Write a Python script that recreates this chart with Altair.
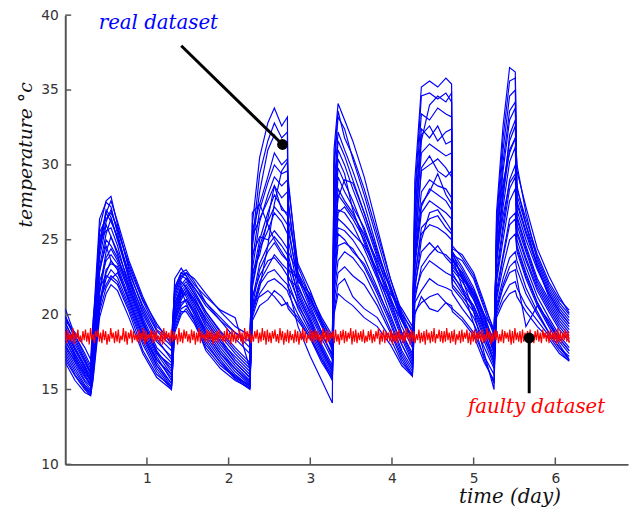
import altair as alt
import numpy as np
import pandas as pd

# ---------------- data ----------------
TIMES = [0.00, 0.12, 0.24, 0.31, 0.34, 0.42, 0.50, 0.56, 0.64, 0.78, 0.95, 1.12, 1.30,
         1.34, 1.42, 1.48, 1.58, 1.72, 1.90, 2.08, 2.26,
         2.29, 2.38, 2.48, 2.56, 2.65, 2.72, 2.73, 2.85, 3.00, 3.14, 3.27,
         3.29, 3.34, 3.42, 3.52, 3.66, 3.82, 3.98, 4.12, 4.25,
         4.28, 4.36, 4.46, 4.56, 4.66, 4.73, 4.74, 4.86, 5.00, 5.13, 5.25,
         5.28, 5.36, 5.44, 5.51, 5.53, 5.64, 5.78, 5.92, 6.05, 6.17]

SENSOR_A = [20.4, 18.6, 17.2, 16.4, 18.5, 25.8, 27.6, 27.9, 26.0, 23.0, 20.4, 18.6, 17.6,
            21.8, 22.8, 23.0, 22.2, 20.8, 19.6, 18.4, 17.4,
            26.0, 30.5, 32.8, 33.8, 32.6, 33.2, 21.8, 19.2, 17.2, 15.6, 14.1,
            31.0, 34.1, 33.0, 31.6, 29.2, 25.8, 22.4, 20.2, 18.8,
            29.0, 35.2, 35.6, 35.2, 35.8, 35.4, 24.2, 22.4, 20.2, 17.4, 15.0,
            26.8, 32.6, 36.5, 36.2, 28.4, 26.4, 24.0, 22.2, 21.0, 20.3]
SENSOR_B = [19.8, 18.4, 17.0, 16.2, 19.2, 26.4, 27.5, 27.2, 25.4, 22.6, 20.0, 18.2, 17.2,
            22.4, 23.1, 22.6, 21.6, 20.2, 18.8, 17.6, 16.6,
            24.5, 28.2, 31.0, 32.0, 31.2, 31.6, 22.4, 21.8, 20.2, 18.6, 17.4,
            29.6, 33.2, 32.4, 30.4, 28.0, 25.0, 22.0, 19.8, 18.2,
            27.6, 33.4, 33.0, 33.8, 33.4, 33.2, 23.8, 21.8, 19.4, 17.0, 15.4,
            25.6, 31.0, 34.6, 35.0, 27.6, 25.6, 23.4, 21.6, 20.4, 19.6]
SENSOR_C = [19.5, 18.0, 16.8, 16.0, 17.8, 24.6, 27.0, 26.5, 25.0, 22.8, 20.6, 18.9, 17.9,
            21.2, 22.4, 22.8, 22.0, 21.2, 20.3, 19.8, 16.4,
            25.6, 27.4, 29.2, 30.8, 30.0, 30.4, 23.0, 22.4, 21.0, 19.6, 18.4,
            28.4, 32.2, 31.0, 29.6, 27.4, 24.4, 21.6, 19.6, 18.4,
            26.4, 32.0, 32.6, 31.6, 32.2, 32.4, 24.0, 23.6, 22.4, 20.4, 18.6,
            24.8, 29.6, 33.0, 33.8, 27.0, 25.0, 23.0, 21.4, 20.2, 19.4]
SENSOR_D = [19.2, 17.8, 16.6, 15.8, 18.9, 25.5, 26.4, 26.8, 25.8, 23.2, 20.9, 19.0, 18.2,
            20.6, 22.0, 22.4, 21.8, 20.6, 19.6, 18.8, 18.2,
            23.0, 26.2, 28.0, 29.2, 28.6, 29.0, 27.4, 22.6, 20.8, 19.2, 17.8,
            27.2, 31.0, 30.0, 28.4, 26.4, 23.8, 21.2, 19.2, 17.8,
            25.6, 30.8, 31.4, 31.0, 30.6, 30.8, 24.4, 24.0, 22.8, 20.8, 18.8,
            24.0, 28.4, 31.6, 32.6, 26.6, 24.6, 22.4, 21.0, 19.8, 19.0]
SENSOR_E = [19.0, 17.6, 16.4, 15.9, 17.5, 23.8, 26.0, 25.2, 24.2, 22.2, 19.8, 17.8, 16.8,
            20.2, 21.6, 22.0, 21.2, 19.6, 18.2, 16.8, 15.8,
            22.4, 25.0, 26.8, 28.0, 27.2, 26.6, 26.0, 22.0, 20.0, 18.4, 17.0,
            26.0, 29.8, 28.8, 27.6, 25.6, 23.2, 20.8, 18.8, 17.2,
            24.8, 29.6, 30.0, 30.4, 29.8, 29.2, 24.2, 23.2, 21.8, 20.0, 18.0,
            23.4, 27.2, 30.2, 31.2, 26.0, 24.2, 22.0, 20.6, 19.4, 18.6]
SENSOR_F = [18.8, 17.4, 16.2, 15.6, 18.2, 24.9, 25.6, 25.8, 24.6, 21.8, 19.4, 17.5, 16.4,
            21.0, 22.2, 21.8, 20.8, 19.2, 17.8, 16.6, 15.6,
            21.8, 24.4, 25.6, 26.8, 26.2, 25.4, 25.0, 21.6, 19.8, 18.0, 16.6,
            24.8, 28.4, 27.6, 26.8, 25.2, 22.8, 20.4, 18.4, 16.8,
            24.0, 28.2, 29.0, 28.6, 28.4, 27.8, 23.6, 22.8, 21.4, 19.6, 17.8,
            22.8, 26.0, 29.0, 30.0, 25.4, 23.6, 21.6, 20.2, 19.0, 18.2]
SENSOR_G = [18.6, 17.2, 16.0, 15.4, 17.0, 22.8, 25.0, 24.6, 23.8, 22.0, 19.6, 17.6, 16.2,
            20.0, 21.4, 21.8, 21.0, 19.8, 18.4, 17.0, 16.0,
            24.0, 25.2, 25.0, 25.6, 25.0, 24.4, 24.0, 21.2, 19.6, 17.8, 16.4,
            23.6, 27.0, 26.8, 26.0, 24.4, 22.4, 20.0, 18.0, 16.6,
            23.2, 26.8, 27.6, 27.2, 26.8, 26.4, 23.0, 22.2, 21.0, 19.2, 17.4,
            22.2, 25.0, 27.6, 28.4, 25.0, 23.2, 21.2, 19.8, 18.6, 17.8]
SENSOR_H = [18.5, 17.3, 16.3, 15.7, 16.8, 21.6, 24.2, 25.2, 24.0, 21.4, 19.0, 17.0, 16.0,
            19.6, 21.0, 21.6, 20.6, 18.8, 17.4, 16.2, 15.3,
            20.6, 23.0, 24.2, 24.8, 24.0, 23.6, 23.2, 20.8, 19.0, 17.4, 16.0,
            22.8, 25.8, 25.6, 25.0, 23.8, 21.8, 19.6, 17.6, 16.4,
            22.6, 25.4, 26.0, 25.8, 25.4, 25.0, 22.6, 21.8, 20.6, 18.8, 17.2,
            21.6, 24.0, 26.4, 26.8, 24.6, 22.8, 20.8, 19.4, 18.2, 17.4]
SENSOR_I = [18.3, 17.0, 15.9, 15.3, 16.6, 22.2, 23.6, 24.0, 23.4, 21.6, 19.2, 17.2, 15.6,
            20.4, 21.8, 21.2, 20.2, 18.6, 17.2, 16.0, 15.2,
            21.2, 22.6, 23.6, 23.8, 23.2, 22.6, 22.2, 20.4, 18.8, 17.2, 15.8,
            22.0, 24.6, 24.8, 24.4, 23.2, 21.4, 19.4, 17.4, 16.2,
            22.0, 24.2, 24.8, 24.2, 24.0, 23.6, 22.0, 21.2, 20.2, 18.4, 17.0,
            21.0, 23.2, 25.0, 25.4, 24.2, 22.4, 20.6, 19.2, 18.0, 17.0]
SENSOR_J = [18.0, 16.8, 15.6, 15.2, 16.4, 20.8, 23.0, 23.4, 23.2, 21.2, 18.8, 16.8, 15.4,
            19.8, 21.2, 21.4, 20.4, 19.0, 17.6, 16.4, 15.4,
            20.2, 22.0, 22.8, 23.0, 22.4, 22.0, 21.8, 20.6, 19.2, 17.6, 16.2,
            21.4, 23.6, 24.2, 23.8, 22.8, 21.0, 19.0, 17.2, 16.0,
            21.4, 22.8, 23.6, 23.2, 22.8, 22.6, 21.8, 21.0, 19.8, 18.2, 16.6,
            20.6, 22.4, 23.8, 24.2, 23.6, 21.8, 20.2, 18.8, 17.8, 17.2]
SENSOR_K = [17.8, 16.6, 15.5, 15.0, 17.4, 21.8, 22.6, 22.4, 22.8, 21.0, 18.6, 16.6, 15.2,
            19.4, 20.8, 21.0, 20.0, 18.4, 17.0, 15.8, 15.1,
            19.8, 21.4, 22.2, 22.4, 22.0, 21.6, 21.4, 20.0, 18.6, 17.0, 15.6,
            20.8, 22.8, 23.2, 22.6, 22.0, 20.6, 18.8, 17.0, 15.9,
            20.8, 21.6, 22.4, 22.0, 21.8, 21.6, 21.4, 20.4, 19.4, 17.8, 16.4,
            20.2, 21.8, 22.8, 23.0, 22.4, 19.2, 20.6, 19.6, 18.4, 17.6]
SENSOR_L = [17.6, 16.4, 15.3, 14.9, 16.0, 20.6, 22.4, 23.0, 22.5, 20.6, 18.2, 16.4, 15.1,
            20.8, 21.6, 20.8, 19.6, 18.0, 16.8, 15.9, 15.2,
            20.8, 21.2, 21.6, 21.2, 20.6, 20.8, 20.6, 19.8, 18.4, 17.0, 15.9,
            20.2, 22.0, 22.4, 21.2, 20.4, 19.8, 18.4, 16.8, 16.0,
            20.2, 20.8, 21.2, 21.4, 20.8, 20.6, 20.4, 19.8, 18.8, 17.2, 16.0,
            20.0, 21.2, 22.0, 22.2, 21.8, 20.6, 19.6, 18.6, 17.6, 16.9]
SENSOR_M = [17.4, 16.2, 15.2, 14.8, 16.2, 21.0, 22.0, 22.6, 22.2, 20.4, 18.0, 16.2, 15.0,
            19.2, 20.4, 20.6, 19.8, 18.2, 16.8, 15.7, 15.0,
            19.6, 20.6, 21.0, 21.6, 21.2, 20.6, 20.4, 19.6, 18.4, 16.8, 15.7,
            20.0, 21.4, 21.0, 20.6, 19.8, 19.2, 18.0, 16.6, 15.9,
            20.0, 21.2, 20.4, 20.2, 20.8, 20.4, 20.2, 19.6, 18.6, 16.8, 15.6,
            19.8, 20.8, 21.4, 21.6, 21.2, 20.2, 19.2, 18.4, 17.4, 16.9]
SENSOR_N = [17.0, 15.9, 15.0, 14.6, 15.8, 20.2, 21.8, 22.4, 22.0, 20.2, 17.6, 16.0, 15.2,
            18.8, 20.0, 20.4, 19.6, 17.6, 16.4, 15.6, 15.1,
            26.8, 27.4, 26.0, 25.0, 24.2, 23.6, 23.4, 22.4, 21.0, 19.4, 18.0,
            26.6, 30.4, 29.4, 27.0, 24.8, 22.6, 21.0, 19.6, 18.6,
            23.6, 27.4, 28.2, 29.4, 28.0, 27.4, 23.8, 22.6, 21.2, 19.4, 18.4,
            25.2, 28.8, 30.8, 31.8, 30.0, 26.8, 23.6, 21.8, 20.6, 19.8]
SENSOR_O = [16.8, 15.6, 14.8, 14.6, 15.6, 19.8, 21.4, 22.0, 21.6, 19.8, 17.4, 15.8, 15.0,
            19.0, 20.2, 20.2, 19.4, 17.8, 16.6, 15.8, 15.3,
            20.0, 21.8, 24.6, 27.4, 29.6, 30.2, 29.0, 22.8, 20.6, 18.8, 17.2,
            25.2, 27.8, 29.0, 28.8, 26.8, 24.0, 21.8, 20.0, 19.0,
            21.6, 25.0, 26.8, 27.0, 26.2, 25.6, 23.4, 22.4, 21.6, 20.0, 18.9,
            23.8, 26.6, 28.8, 29.4, 28.6, 26.0, 23.2, 21.2, 20.0, 19.2]
SENSOR_P = [19.6, 18.8, 17.8, 17.0, 19.6, 24.2, 26.8, 27.6, 26.2, 23.6, 21.2, 19.2, 18.4,
            21.6, 22.6, 22.8, 22.4, 21.4, 20.2, 19.2, 18.6,
            22.8, 24.0, 26.4, 28.6, 27.8, 28.2, 27.6, 22.2, 21.4, 19.8, 18.6,
            24.4, 26.4, 26.0, 25.4, 24.6, 23.0, 21.4, 20.4, 19.2,
            25.2, 31.6, 34.0, 34.6, 34.2, 34.8, 24.6, 23.8, 22.6, 20.6, 19.0,
            24.4, 27.8, 32.0, 33.0, 29.6, 27.2, 24.4, 22.6, 21.2, 20.1]
SENSOR_Q = [19.4, 18.2, 16.9, 16.1, 18.0, 25.0, 26.8, 26.2, 25.2, 22.4, 20.2, 18.4, 17.0,
            21.4, 22.6, 22.4, 21.4, 20.0, 18.6, 17.4, 16.4,
            23.6, 27.0, 28.8, 30.0, 29.4, 29.6, 28.6, 23.2, 21.2, 19.4, 17.6,
            30.2, 33.6, 31.8, 30.6, 28.4, 25.4, 22.4, 20.0, 18.4,
            28.0, 34.6, 34.8, 34.4, 34.8, 34.2, 23.6, 22.8, 21.2, 19.0, 16.8,
            26.2, 31.8, 35.6, 35.8, 28.0, 26.0, 23.8, 22.0, 20.8, 20.0]
SENSOR_R = [18.9, 17.7, 16.5, 15.5, 17.6, 23.2, 25.4, 26.4, 25.0, 22.4, 19.6, 17.4, 16.6,
            20.8, 21.8, 22.2, 21.4, 20.2, 18.9, 17.8, 16.8,
            22.0, 24.6, 26.2, 27.2, 26.6, 26.0, 25.6, 22.4, 20.4, 18.8, 17.2,
            27.8, 31.6, 30.6, 29.0, 26.8, 24.2, 21.8, 19.6, 18.0,
            26.8, 32.4, 31.8, 32.6, 31.4, 31.6, 24.0, 23.0, 21.6, 19.8, 17.6,
            25.0, 30.2, 33.6, 34.2, 27.4, 25.4, 23.2, 21.4, 20.2, 19.4]
SENSOR_S = [18.2, 17.1, 16.1, 15.6, 17.2, 23.0, 24.6, 23.6, 23.0, 21.0, 18.6, 17.0, 15.8,
            19.9, 21.2, 21.6, 20.8, 19.4, 18.0, 16.8, 15.8,
            21.0, 23.4, 24.6, 25.2, 24.6, 24.0, 23.6, 21.4, 19.6, 17.8, 16.4,
            25.4, 29.2, 28.2, 27.2, 25.8, 23.4, 21.0, 18.8, 17.4,
            24.2, 29.8, 30.6, 29.6, 29.2, 29.6, 23.8, 22.6, 21.0, 19.4, 17.6,
            23.6, 28.0, 31.0, 31.8, 26.4, 24.4, 22.2, 20.8, 19.6, 18.8]
SENSOR_T = [17.9, 16.9, 15.8, 15.3, 16.9, 21.4, 23.8, 24.4, 23.6, 21.8, 19.4, 17.4, 16.0,
            20.4, 21.4, 21.8, 21.0, 19.6, 18.2, 17.2, 16.2,
            25.2, 26.4, 27.6, 28.6, 27.0, 26.8, 26.4, 23.4, 21.6, 19.6, 18.2,
            23.2, 26.8, 27.2, 26.4, 25.0, 22.6, 20.6, 18.6, 17.0,
            23.8, 27.2, 28.4, 28.0, 27.6, 27.0, 23.2, 22.4, 21.4, 19.8, 18.2,
            22.4, 25.6, 28.4, 29.2, 25.6, 23.8, 21.8, 20.4, 19.2, 18.4]
SENSOR_U = [17.2, 16.0, 15.1, 14.7, 16.4, 20.4, 22.8, 23.6, 23.0, 20.8, 18.4, 16.6, 15.4,
            19.6, 20.6, 21.0, 20.2, 18.8, 17.4, 16.4, 15.5,
            20.4, 22.2, 23.2, 24.0, 23.4, 23.0, 22.6, 21.0, 19.4, 17.6, 16.2,
            21.8, 25.4, 25.0, 24.2, 23.4, 21.6, 19.8, 18.0, 16.6,
            22.4, 25.8, 26.4, 26.6, 25.8, 25.4, 22.8, 21.6, 20.4, 18.6, 16.8,
            21.2, 23.8, 26.0, 26.4, 24.4, 22.6, 20.8, 19.4, 18.4, 17.6]
SENSOR_V = [19.9, 18.6, 17.4, 16.6, 18.8, 24.4, 26.2, 27.0, 25.6, 23.4, 21.0, 19.4, 18.0,
            21.8, 22.8, 22.6, 21.8, 20.8, 19.8, 18.8, 17.8,
            24.8, 29.4, 31.6, 32.8, 31.8, 32.2, 24.2, 22.8, 21.2, 19.4, 17.8,
            24.0, 28.0, 27.4, 26.6, 25.4, 23.6, 21.8, 19.8, 18.2,
            21.0, 23.2, 24.0, 24.6, 23.8, 23.4, 22.4, 21.4, 20.6, 19.0, 17.6,
            20.4, 22.0, 23.2, 23.6, 23.0, 21.4, 20.0, 18.8, 17.8, 17.0]

SENSOR_NAMES = list("ABCDEFGHIJKLMNOPQRSTUV")
SENSOR_SERIES = [SENSOR_A, SENSOR_B, SENSOR_C, SENSOR_D, SENSOR_E, SENSOR_F, SENSOR_G, SENSOR_H,
                 SENSOR_I, SENSOR_J, SENSOR_K, SENSOR_L, SENSOR_M, SENSOR_N, SENSOR_O, SENSOR_P,
                 SENSOR_Q, SENSOR_R, SENSOR_S, SENSOR_T, SENSOR_U, SENSOR_V]

FAULTY_VALUES = [
    18.9, 18.1, 19.0, 18.3, 18.7, 18.2, 19.1, 18.0, 18.8, 18.4, 19.0, 18.2, 18.6, 18.1, 18.9, 18.3, 19.0, 18.2, 18.8, 18.0,
    19.1, 18.3, 18.7, 18.1, 18.9, 18.5, 19.0, 18.2, 18.8, 18.1, 19.0, 18.3, 18.9, 18.0, 18.7, 18.2, 19.1, 18.4, 18.8, 18.1,
    18.9, 18.2, 19.0, 18.1, 18.6, 18.3, 19.1, 18.2, 18.9, 18.0, 18.8, 18.4, 19.0, 18.1, 18.9, 18.3, 18.7, 18.2, 19.0, 18.1,
    18.8, 18.3, 19.1, 18.0, 18.9, 18.2, 18.7, 18.4, 19.0, 18.1, 18.9, 18.2, 19.0, 18.3, 18.6, 18.1, 18.9, 18.0, 19.1, 18.2,
    18.9, 18.4, 18.8, 18.1, 19.0, 18.2, 18.9, 18.3, 18.7, 18.0, 19.1, 18.2, 18.8, 18.1, 19.0, 18.4, 18.9, 18.2, 18.7, 18.1,
    19.0, 18.3, 18.9, 18.0, 18.8, 18.2, 19.1, 18.1, 18.9, 18.4, 18.7, 18.2, 19.0, 18.1, 18.9, 18.3, 19.0, 18.0, 18.8, 18.2,
    18.9, 18.1, 19.0, 18.4, 18.6, 18.2, 18.9, 18.1, 19.1, 18.3, 18.8, 18.0, 19.0, 18.2, 18.9, 18.1, 18.7, 18.3, 19.0, 18.2,
    18.8, 18.0, 19.1, 18.2, 18.9, 18.3, 19.0, 18.1, 18.7, 18.2, 18.9, 18.4, 19.0, 18.1, 18.8, 18.2, 19.1, 18.3, 18.9, 18.0,
    19.0, 18.2, 18.8, 18.1, 18.9, 18.4, 19.0, 18.2, 18.7, 18.1, 19.1, 18.3, 18.9, 18.0, 18.8, 18.2, 19.0, 18.1, 18.9, 18.3,
    18.7, 18.1, 19.0, 18.2, 18.9, 18.0, 18.8, 18.3, 19.1, 18.2, 18.9, 18.1, 18.6, 18.4, 19.0, 18.2, 18.9, 18.1, 19.0, 18.3,
    18.9, 18.2, 18.7, 18.0, 19.1, 18.3, 18.9, 18.1, 19.0, 18.2, 18.8, 18.4, 18.9, 18.1, 19.0, 18.2, 18.7, 18.0, 18.9, 18.3,
    19.0, 18.1, 18.9, 18.2, 18.8, 18.4, 19.1, 18.0, 18.9, 18.2, 19.0, 18.1, 18.8, 18.3, 18.9, 18.2, 19.0, 18.1, 18.6, 18.2,
    18.9, 18.3, 19.0, 18.1, 18.7, 18.2, 18.9, 18.4, 19.1, 18.0, 18.8, 18.2, 19.0, 18.1, 18.9, 18.3, 18.8, 18.2, 19.0, 18.0,
    18.8, 18.2, 18.9, 18.1, 19.0, 18.3, 18.7, 18.1, 18.9, 18.2, 19.1, 18.4, 18.8, 18.0, 19.0, 18.2, 18.9, 18.1, 18.7, 18.3,
    19.0, 18.1, 18.8, 18.2, 18.9, 18.0, 19.0, 18.3, 18.8, 18.1, 18.9, 18.2, 19.1, 18.1, 18.7, 18.4, 19.0, 18.2, 18.9, 18.1,
    18.9, 18.2, 19.1, 18.3, 18.8, 18.1, 18.9, 18.2, 19.0, 18.0, 18.7, 18.3, 18.9, 18.1, 19.0, 18.2, 18.8, 18.4, 19.0, 18.1,
    18.8, 18.0, 18.9, 18.2, 19.0, 18.1, 18.8, 18.3, 18.9, 18.2, 19.0, 18.1, 18.7, 18.2, 19.1, 18.3, 18.9, 18.0, 18.8, 18.2,
    19.0, 18.3, 18.9, 18.1, 18.7, 18.2, 19.0, 18.1, 18.9, 18.4, 18.8, 18.2, 19.0, 18.0, 18.9, 18.1, 19.1, 18.3, 18.8, 18.2,
    18.9, 18.1, 19.0, 18.2, 18.8, 18.3, 18.9, 18.0, 19.0, 18.2, 18.7, 18.1, 18.9, 18.3, 19.0, 18.2, 18.8, 18.1, 19.0, 18.4,
    18.8, 18.2, 18.9, 18.1, 19.0, 18.3, 18.8, 18.2, 18.9, 18.0, 19.1, 18.2, 18.9, 18.1, 18.8, 18.3, 19.0, 18.2, 18.9, 18.1,
]
FAULTY_T_START = 0.0
FAULTY_T_END = 6.17

X_TICKS = [1, 2, 3, 4, 5, 6]
Y_TICKS = [10, 15, 20, 25, 30, 35, 40]

REAL_POINTER_T = [1.42, 2.66]
REAL_POINTER_V = [37.96, 31.36]
FAULTY_POINTER_T = [5.68, 5.68]
FAULTY_POINTER_V = [18.44, 14.75]

LABELS = ["real dataset", "faulty dataset"]
LABEL_T = [1.14, 5.77]
LABEL_V = [39.1, 13.4]
LABEL_COLORS = ["#0000ff", "#ff0000"]

# ---------------- build tables ----------------
rows = []
for name, series in zip(SENSOR_NAMES, SENSOR_SERIES):
    for t, v in zip(TIMES, series):
        rows.append({"sensor": name, "t": t, "v": v})
real_df = pd.DataFrame(rows)

faulty_df = pd.DataFrame({
    "t": np.linspace(FAULTY_T_START, FAULTY_T_END, len(FAULTY_VALUES)),
    "v": FAULTY_VALUES,
})

W, H = 570, 455
xscale = alt.Scale(domain=[0, 6.89], nice=False, zero=False)
yscale = alt.Scale(domain=[10, 40], nice=False, zero=False)

x_axis = alt.Axis(values=X_TICKS, format="d", tickSize=0, grid=False,
                  domainColor="#555555", domainWidth=2,
                  labelFont="DejaVu Sans", labelFontSize=14, labelColor="#333333", labelPadding=7,
                  title="time (day)", titleFont="DejaVu Serif", titleFontStyle="italic",
                  titleFontWeight="normal", titleFontSize=20, titleColor="#111111",
                  titleX=450, titleY=33, titleAlign="center", titleBaseline="middle")
y_axis = alt.Axis(values=Y_TICKS, tickSize=0, grid=False,
                  domainColor="#555555", domainWidth=2,
                  labelFont="DejaVu Sans", labelFontSize=14, labelColor="#333333", labelPadding=7,
                  title="temperature  °c", titleFont="DejaVu Serif", titleFontStyle="italic",
                  titleFontWeight="normal", titleFontSize=19, titleColor="#111111",
                  titleAngle=270, titleX=-40, titleY=141, titleAlign="center", titleBaseline="middle")

X = alt.X("t:Q", scale=xscale, axis=x_axis)
Y = alt.Y("v:Q", scale=yscale, axis=y_axis)

real = alt.Chart(real_df).mark_line(color="#0000ff", strokeWidth=1.2, clip=True).encode(
    x=X, y=Y, detail="sensor:N")

faulty = alt.Chart(faulty_df).mark_line(color="#ff0000", strokeWidth=1.2, clip=True).encode(
    x=X, y=Y)

xticks = alt.Chart(pd.DataFrame({"t": X_TICKS})).mark_rule(color="#555555", strokeWidth=1.5).encode(
    x=X, y=alt.value(H - 7), y2=alt.value(H))
yticks = alt.Chart(pd.DataFrame({"v": Y_TICKS})).mark_rule(color="#555555", strokeWidth=1.5).encode(
    y=Y, x=alt.value(0), x2=alt.value(6))

ptr_df = pd.DataFrame({
    "t": REAL_POINTER_T + FAULTY_POINTER_T,
    "v": REAL_POINTER_V + FAULTY_POINTER_V,
    "which": ["real", "real", "faulty", "faulty"],
})
pointers = alt.Chart(ptr_df).mark_line(color="black", strokeWidth=3).encode(
    x=X, y=Y, detail="which:N")
dots_df = pd.DataFrame({"t": [REAL_POINTER_T[1], FAULTY_POINTER_T[0]],
                        "v": [REAL_POINTER_V[1], FAULTY_POINTER_V[0]]})
dots = alt.Chart(dots_df).mark_point(filled=True, color="black", size=120, opacity=1).encode(
    x=X, y=Y)

labels_df = pd.DataFrame({"label": LABELS, "t": LABEL_T, "v": LABEL_V, "c": LABEL_COLORS})
labels = alt.Chart(labels_df).mark_text(font="DejaVu Serif", fontStyle="italic", fontSize=20,
                                         align="center", baseline="alphabetic").encode(
    x=X, y=Y, text="label:N", color=alt.Color("c:N", scale=None))

chart = alt.layer(real, faulty, xticks, yticks, pointers, dots, labels).properties(
    width=W, height=H,
    autosize=alt.AutoSizeParams(type="none"),
    padding={"left": 58, "top": 4, "right": 2, "bottom": 45},
).configure_view(stroke=None)

chart.save("out.html", embed_options={"renderer": "svg", "actions": False})
